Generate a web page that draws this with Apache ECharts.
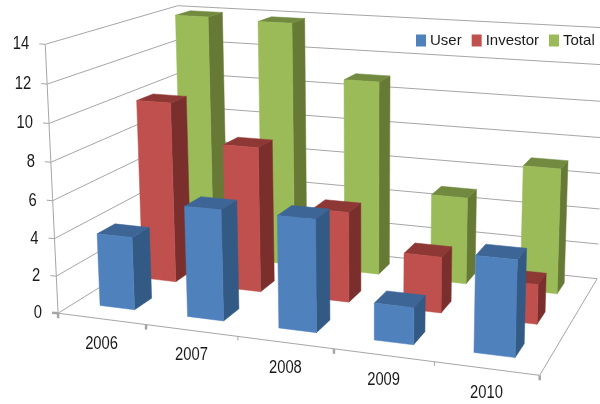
<!DOCTYPE html>
<html><head><meta charset="utf-8">
<style>html,body{margin:0;padding:0;background:#fff}#c{width:600px;height:404px}</style>
<script src="https://cdn.jsdelivr.net/npm/echarts@6/dist/echarts.min.js"></script>
</head><body><div id="c"></div>
<script>
const categories = ['2006','2007','2008','2009','2010'];
const valueTicks = [0,2,4,6,8,10,12,14];
const userValues = [3.9,5.85,5.85,1.9,4.85];
const investorValues = [10.0,7.95,4.9,3.0,2.1];
const totalValues = [13.95,13.85,10.9,4.85,6.9];

const FONT = '18px "Liberation Sans",sans-serif';
const GW = 600, GH = 404;
// camera: unit cube corners (category, value, depth) seen on the page
const camera = [
  [0,0,0, 58,312],[0,1,0, 45,45],[1,0,0, 540,376],[0,1,1, 178,5],
  [1,0,1, 597,278],[1,1,1, 606,28],[0,0,1, 184,236]
];
function solveCamera(pts){
  const A=[],b=[];
  pts.forEach(([x,y,z,u,v])=>{
    A.push([x,y,z,1,0,0,0,0,-u*x,-u*y,-u*z]);b.push(u);
    A.push([0,0,0,0,x,y,z,1,-v*x,-v*y,-v*z]);b.push(v);
  });
  const n=11,M=[];
  for(let i=0;i<n;i++){M[i]=[];for(let j=0;j<=n;j++){let s=0;
    for(let k=0;k<A.length;k++)s+=A[k][i]*(j<n?A[k][j]:b[k]);M[i][j]=s;}}
  for(let i=0;i<n;i++){let p=i;for(let r=i+1;r<n;r++)if(Math.abs(M[r][i])>Math.abs(M[p][i]))p=r;
    [M[i],M[p]]=[M[p],M[i]];
    for(let r=0;r<n;r++){if(r===i)continue;const f=M[r][i]/M[i][i];for(let c=i;c<=n;c++)M[r][c]-=f*M[i][c];}}
  return M.map((row,i)=>row[n]/row[i]);
}
const C = solveCamera(camera);
// px,py are pixels from the hidden cartesian grid; d is depth 0..1
function project(px,py,d){
  const x=px/GW,y=(GH-py)/GH;
  const w=C[8]*x+C[9]*y+C[10]*d+1;
  return [(C[0]*x+C[1]*y+C[2]*d+C[3])/w,(C[4]*x+C[5]*y+C[6]*d+C[7])/w];
}
const BAR_W = 0.40, BAR_D = 0.13;
function barItem(depthCenter, colors){
  return function(params, api){
    const cat=api.value(0), val=api.value(1);
    const top=api.coord([cat,val]), base=api.coord([cat,0]);
    const size=api.size([1,0])[0];
    const hw=size*BAR_W/2, shift=-size*.012;
    const d0=depthCenter-BAR_D/2,d1=depthCenter+BAR_D/2;
    const xl=top[0]-hw+shift,xr=top[0]+hw+shift,yt=top[1],yb=base[1];
    const face=(pts,fill)=>({type:'polygon',shape:{points:pts},style:{fill:fill,stroke:fill,lineWidth:.5}});
    return {type:'group',children:[
      face([project(xr,yt,d0),project(xr,yt,d1),project(xr,yb,d1),project(xr,yb,d0)],colors[1]),
      face([project(xl,yt,d0),project(xl,yt,d1),project(xr,yt,d1),project(xr,yt,d0)],colors[2]),
      face([project(xl,yt,d0),project(xr,yt,d0),project(xr,yb,d0),project(xl,yb,d0)],colors[0])
    ]};
  };
}
const GRID='#a6a6a6';
function label(text,x,y,align){
  return {type:'text',x:x,y:y,scaleX:.82,style:{text:text,x:0,y:0,align:align,verticalAlign:'middle',font:FONT,fill:'#1a1a1a'}};
}
function wallItem(params, api){
  const v=api.value(0);
  const L=api.coord([0,v])[1];
  const xMin=0,xMax=GW;
  const kids=[{type:'polyline',shape:{points:[project(xMin,L,0),project(xMin,L,1),project(xMax,L,1)]},style:{fill:null,stroke:GRID,lineWidth:1}}];
  const p=project(xMin,L,0);
  kids.push({type:'line',shape:{x1:p[0]-6,y1:p[1]-.5,x2:p[0],y2:p[1]},style:{stroke:GRID,lineWidth:v===0?2.5:1}});
  kids.push(label(String(v),p[0]-16,p[1],'right'));
  return {type:'group',children:kids};
}
function floorItem(params, api){
  const cat=api.value(0);
  const c=api.coord([cat,0]);
  const hw=api.size([1,0])[0]/2;
  const a=project(c[0],c[1],0);
  const s=project(c[0]-hw,c[1],0);
  const t=project(c[0]+hw,c[1],0);
  const kids=[
    {type:'line',shape:{x1:s[0],y1:s[1],x2:t[0],y2:t[1]},style:{stroke:GRID,lineWidth:1}},
    {type:'line',shape:{x1:t[0],y1:t[1],x2:t[0],y2:t[1]+(cat%2===0?5:4)},style:{stroke:GRID,lineWidth:cat%2===0?2.5:1}},
    label(categories[cat],a[0],a[1]+25,'center')
  ];
  return {type:'group',children:kids};
}
function frameItem(params, api){
  const b=api.coord([0,0]),t=api.coord([0,valueTicks[valueTicks.length-1]]);
  const f0=project(0,b[1],0),f1=project(0,t[1],0);
  const r0=project(GW,b[1],0),r1=project(GW,b[1],1);
  return {type:'group',children:[
    {type:'line',shape:{x1:f0[0],y1:f0[1],x2:f1[0],y2:f1[1]},style:{stroke:GRID,lineWidth:1}},
    {type:'line',shape:{x1:r0[0],y1:r0[1],x2:r1[0],y2:r1[1]},style:{stroke:GRID,lineWidth:1}},
    {type:'line',shape:{x1:f0[0],y1:f0[1],x2:f0[0],y2:f0[1]+5},style:{stroke:GRID,lineWidth:2.5}}
  ]};
}
const zip=a=>a.map((v,i)=>[i,v]);
const option={
  animation:false,backgroundColor:'#fff',
  grid:{left:0,top:0,width:GW,height:GH},
  xAxis:{type:'category',data:categories,show:false},
  yAxis:{type:'value',min:0,max:14,show:false},
  legend:{data:['User','Investor','Total'],left:416,top:33,width:184,itemWidth:10,itemHeight:12,itemGap:10,
    icon:'rect',padding:0,textStyle:{fontFamily:'"Liberation Sans",sans-serif',fontSize:15,color:'#1a1a1a',padding:[0,0,0,-1]}},
  series:[
    {name:'User',type:'custom',z:6,data:zip(userValues),encode:{x:0,y:1},itemStyle:{color:'#4F81BD'},
      renderItem:barItem(.185,['#4F81BD','#335A85','#3D6596'])},
    {name:'Investor',type:'custom',z:5,data:zip(investorValues),encode:{x:0,y:1},itemStyle:{color:'#C0504D'},
      renderItem:barItem(.51,['#C0504D','#7B2F2D','#8E3835'])},
    {name:'Total',type:'custom',z:4,data:zip(totalValues),encode:{x:0,y:1},itemStyle:{color:'#9BBB59'},
      renderItem:barItem(.845,['#9BBB59','#667A35','#728A40'])},
    {name:'walls',type:'custom',z:1,data:valueTicks.map(v=>[v]),encode:{y:0},renderItem:wallItem},
    {name:'floor',type:'custom',z:1,data:categories.map((c,i)=>[i]),encode:{x:0},renderItem:floorItem},
    {name:'frame',type:'custom',z:1,data:[[0]],renderItem:frameItem}
  ]
};
echarts.init(document.getElementById('c')).setOption(option);
</script></body></html>
